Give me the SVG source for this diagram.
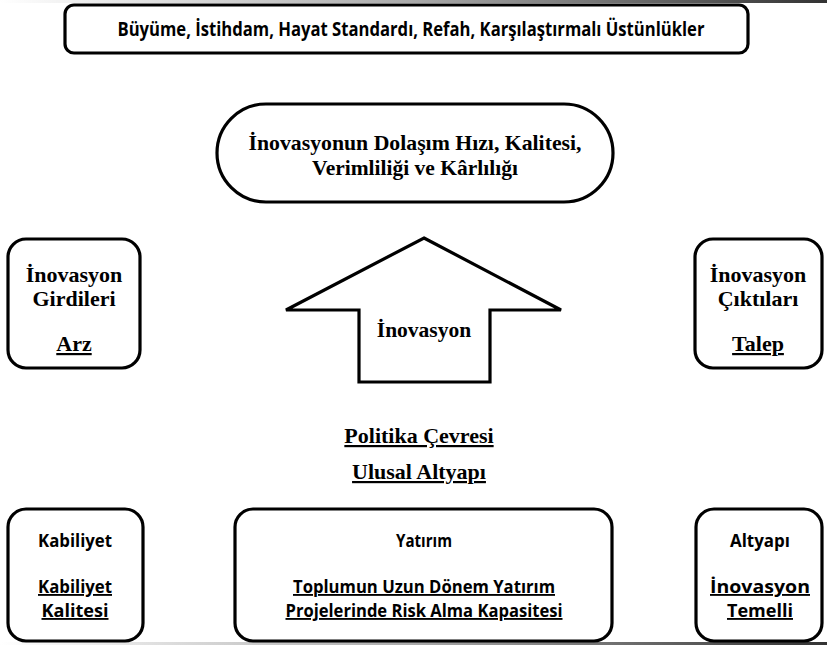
<svg xmlns="http://www.w3.org/2000/svg" width="827" height="645" viewBox="0 0 827 645">
<defs>
<linearGradient id="edge" x1="0" y1="0" x2="1" y2="0">
<stop offset="0" stop-color="#ffffff"/>
<stop offset="0.5" stop-color="#aaaaaa"/>
<stop offset="1" stop-color="#333333"/>
</linearGradient>
</defs>
<style>
.box{fill:#fff;stroke:#000;stroke-width:3.2}
.sans{font-family:"Open Sans","Liberation Sans",sans-serif;font-weight:bold;fill:#000;text-anchor:middle}
.serif{font-family:"Liberation Serif","Times New Roman",serif;font-weight:bold;fill:#000;text-anchor:middle}
.u{text-decoration:underline}
</style>
<rect width="827" height="645" fill="#fff"/>
<rect x="0" y="0" width="827" height="3" fill="url(#edge)"/>
<rect x="0" y="642" width="827" height="3" fill="url(#edge)"/>

<g id="top">
<rect class="box" x="65" y="5" width="683" height="48" rx="9"/>
<text class="sans" x="411" y="36" font-size="19.5" textLength="587" lengthAdjust="spacingAndGlyphs">Büyüme, İstihdam, Hayat Standardı, Refah, Karşılaştırmalı Üstünlükler</text>
</g>

<g id="dolasim">
<rect class="box" x="217" y="104" width="396" height="98" rx="49"/>
<text class="serif" x="415" y="150" font-size="21.5" textLength="333" lengthAdjust="spacingAndGlyphs">İnovasyonun Dolaşım Hızı, Kalitesi,</text>
<text class="serif" x="415" y="175" font-size="21.5">Verimliliği ve Kârlılığı</text>
</g>

<g id="girdiler">
<rect class="box" x="8" y="239" width="132" height="129" rx="18"/>
<text class="serif" x="74" y="282" font-size="22">İnovasyon</text>
<text class="serif" x="74" y="306" font-size="22">Girdileri</text>
<text class="serif u" x="74" y="351" font-size="22">Arz</text>
</g>

<g id="ciktilar">
<rect class="box" x="695" y="239" width="127" height="129" rx="18"/>
<text class="serif" x="758" y="282" font-size="22">İnovasyon</text>
<text class="serif" x="758" y="306" font-size="22">Çıktıları</text>
<text class="serif u" x="758" y="351" font-size="22">Talep</text>
</g>

<g id="inovasyon">
<polygon class="box" points="424,238 561,310 490,310 490,382 359,382 359,310 286,310"/>
<text class="serif" x="424" y="337" font-size="21.5">İnovasyon</text>
</g>

<g id="politika">
<text class="serif u" x="419" y="443" font-size="22">Politika Çevresi</text>
<text class="serif u" x="419" y="479" font-size="22">Ulusal Altyapı</text>
</g>

<g id="kabiliyet">
<rect class="box" x="8" y="509" width="135" height="132" rx="18"/>
<text class="sans" x="75" y="547" font-size="18.5" textLength="74" lengthAdjust="spacingAndGlyphs">Kabiliyet</text>
<text class="sans u" x="75" y="593" font-size="18.5" textLength="74" lengthAdjust="spacingAndGlyphs">Kabiliyet</text>
<text class="sans u" x="75" y="617" font-size="18.5" textLength="67" lengthAdjust="spacingAndGlyphs">Kalitesi</text>
</g>

<g id="yatirim">
<rect class="box" x="235" y="509" width="377" height="132" rx="18"/>
<text class="sans" x="424" y="547" font-size="18.5" textLength="56" lengthAdjust="spacingAndGlyphs">Yatırım</text>
<text class="sans u" x="424" y="593" font-size="18.5" textLength="262" lengthAdjust="spacingAndGlyphs">Toplumun Uzun Dönem Yatırım</text>
<text class="sans u" x="424" y="617" font-size="18.5" textLength="277" lengthAdjust="spacingAndGlyphs">Projelerinde Risk Alma Kapasitesi</text>
</g>

<g id="altyapi">
<rect class="box" x="696" y="509" width="126" height="132" rx="18"/>
<text class="sans" x="760" y="547" font-size="18.5" textLength="60" lengthAdjust="spacingAndGlyphs">Altyapı</text>
<text class="sans u" x="760" y="593" font-size="18.5" textLength="100" lengthAdjust="spacingAndGlyphs">İnovasyon</text>
<text class="sans u" x="760" y="617" font-size="18.5" textLength="66" lengthAdjust="spacingAndGlyphs">Temelli</text>
</g>

<g id="connectors"></g>
</svg>
